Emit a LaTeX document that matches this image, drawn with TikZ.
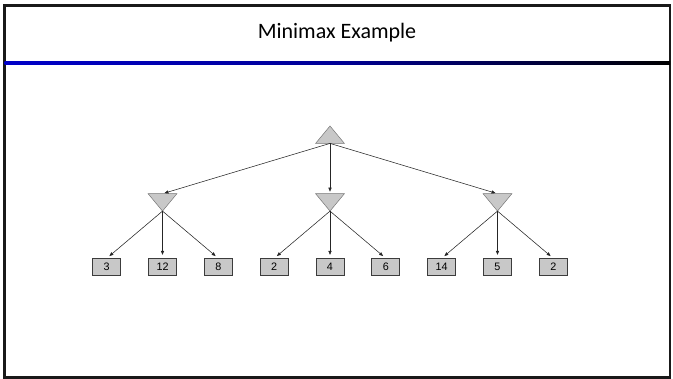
\documentclass[tikz,border=0pt]{standalone}
\usepackage{fontspec}
\setmainfont{Carlito}
\newfontfamily\leaffont{Liberation Sans}
\usetikzlibrary{arrows.meta}
\definecolor{nodegray}{RGB}{200,200,200}
\definecolor{edgegray}{RGB}{60,60,60}
\definecolor{ruleblue}{RGB}{0,0,200}
\tikzset{
  slot/.style={inner sep=0pt, minimum width=28.4pt, minimum height=17pt},
  tri/.style={fill=nodegray, draw=edgegray!70, line width=0.5pt},
  leafbox/.style={draw=edgegray, fill=nodegray, line width=0.8pt, inner sep=0pt,
    minimum width=28pt, minimum height=16.5pt, font=\leaffont\fontsize{10.8}{12}\selectfont},
  link/.style={draw=black!85, line width=0.55pt, -{Triangle[length=4pt,width=3.2pt]}},
}
\begin{document}
\begin{tikzpicture}[x=1pt,y=1pt]
\useasboundingbox (0,0) rectangle (673,379);

% slide frame and title bar
\draw[line width=2.3pt, black!90] (4.5,373.5) rectangle (670,1.5);
\shade[left color=ruleblue, right color=black, middle color=ruleblue!75!black] (4.5,314.3) rectangle (670,317.7);
\node[anchor=base, font=\fontsize{22}{26}\selectfont] (title) at (337,340) {Minimax Example};

% max node (root)
\node[slot] (r) at (330,244.3) {};
\path[tri] (r.south west) -- (r.south east) -- (r.north) -- cycle;

% min nodes
\foreach \k/\n in {-3/a,0/b,3/c}{
  \node[slot] (\n) at ({330+55.83*\k},176.6) {};
  \path[tri] (\n.north west) -- (\n.north east) -- (\n.south) -- cycle;
}

% terminal values
\foreach \k/\v/\n in {-4/3/l1,-3/12/l2,-2/8/l3,-1/2/l4,0/4/l5,1/6/l6,2/14/l7,3/5/l8,4/2/l9}{
  \node[leafbox] (\n) at ({330+55.83*\k},112) {\v};
}

% edges
\foreach \n in {a,b,c}{
  \draw[link, shorten >=2pt] (r.south) -- (\n.north);
}
\foreach \p/\n in {a/l1,a/l2,a/l3,b/l4,b/l5,b/l6,c/l7,c/l8,c/l9}{
  \draw[link, shorten >=3.5pt] (\p.south) -- (\n.north);
}
\end{tikzpicture}
\end{document}
